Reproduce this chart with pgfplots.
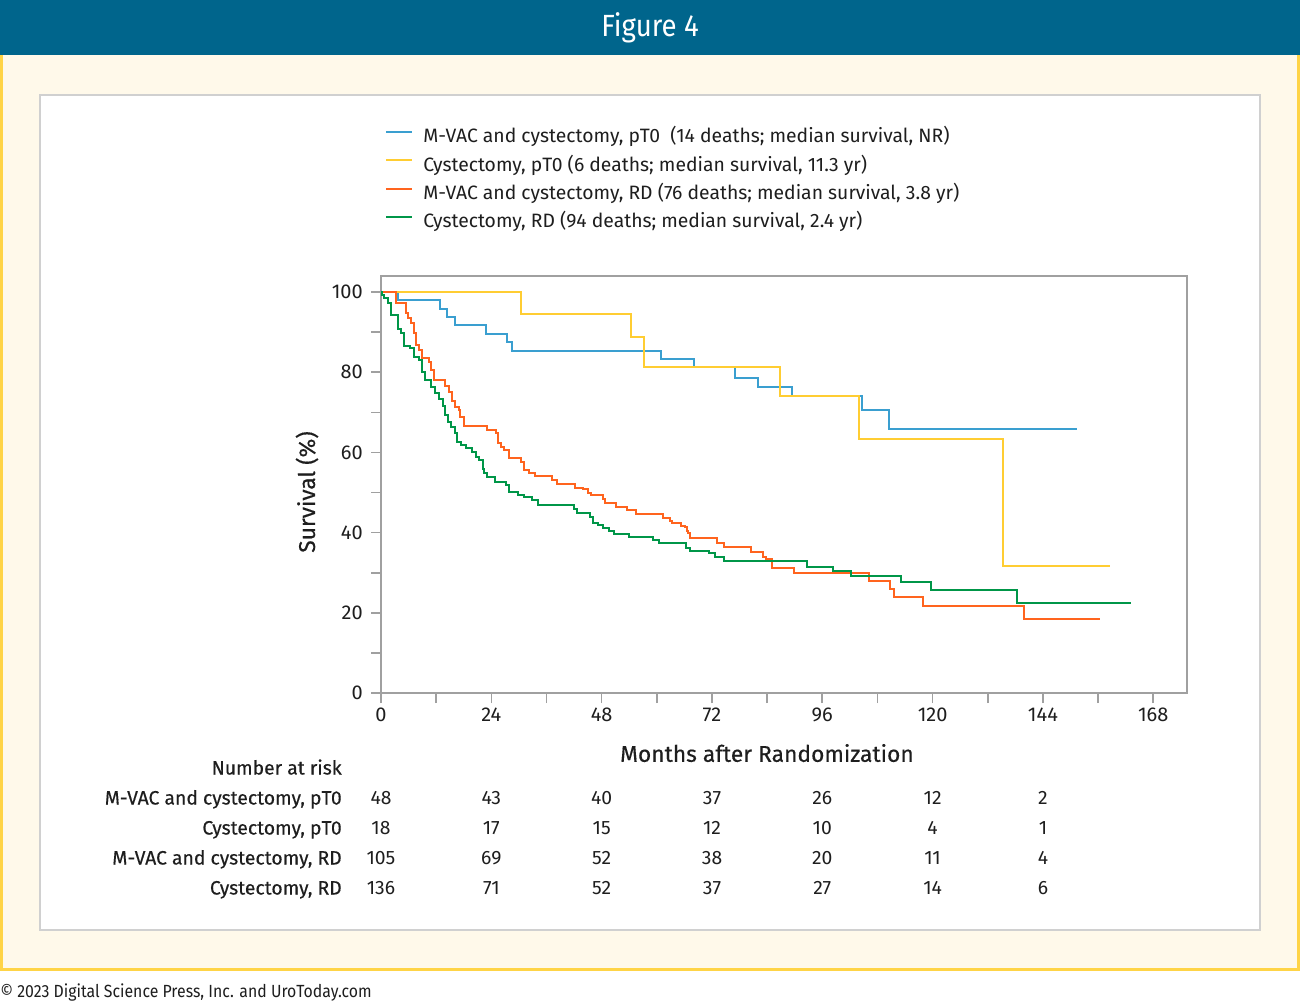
\documentclass[border=0pt]{standalone}
\usepackage{fontspec}
\usepackage{pgfplots}
\pgfplotsset{compat=1.18}
\setmainfont{Fira Sans}
\newfontfamily\medfont[FakeBold=0.35]{Fira Sans}
\newfontfamily\condfont[FakeStretch=0.9]{Fira Sans}
\definecolor{hdrblue}{RGB}{0,101,140}
\definecolor{cream}{RGB}{255,249,234}
\definecolor{ylwborder}{RGB}{255,212,70}
\definecolor{panelgray}{RGB}{208,208,208}
\definecolor{axisgray}{RGB}{160,160,160}
\definecolor{textdark}{RGB}{30,30,30}
\definecolor{cblue}{RGB}{58,159,208}
\definecolor{cyellow}{RGB}{255,205,50}
\definecolor{corange}{RGB}{255,100,30}
\definecolor{cgreen}{RGB}{0,150,72}
\newcommand{\tfs}{\fontsize{15}{17}\selectfont}
\newcommand{\lfs}{\fontsize{14.5}{17}\selectfont}
\newcommand{\afs}{\medfont\fontsize{17.1}{19}\selectfont}
\begin{document}
\begin{tikzpicture}[x=0.75pt,y=0.75pt]
\useasboundingbox (0,0) rectangle (1300,1004);
\fill[white] (0,0) rectangle (1300,1004);
\fill[cream] (0,33) rectangle (1300,949);
\draw[ylwborder, line width=2.25pt] (1.5,949) -- (1.5,34.5) -- (1298.5,34.5) -- (1298.5,949);
\fill[hdrblue] (0,949) rectangle (1300,1004);
\node[text=white, font=\condfont\fontsize{23}{26}\selectfont] at (650,976.5) {Figure 4};
\filldraw[fill=white, draw=panelgray, line width=1.5pt] (40,74) rectangle (1260,909);
\node[anchor=west, inner sep=0pt, text=textdark, font=\condfont\fontsize{13.2}{15}\selectfont] at (0,11) {© 2023 Digital Science Press, Inc. and UroToday.com};

\begin{axis}[
  at={(285.75pt,233.25pt)}, anchor=south west,
  scale only axis, width=604.7pt, height=312.75pt,
  xmin=0, xmax=175.4, ymin=0, ymax=104,
  axis line style={draw=axisgray, line width=1.2pt},
  tick style={draw=axisgray, line width=1.2pt},
  tick align=outside,
  major tick length=7.5pt, minor tick length=7.5pt,
  xtick pos=bottom, ytick pos=left,
  xtick={0,24,...,168}, minor xtick={12,36,...,156},
  ytick={0,20,...,100}, minor ytick={10,30,...,90},
  /pgf/number format/assume math mode=true,
  ticklabel style={font=\tfs, text=textdark},
  xticklabel style={inner sep=0pt, anchor=north, yshift=-3.75pt},
  yticklabel style={inner sep=0pt, anchor=east, xshift=-6pt},
  xlabel={Months after Randomization},
  ylabel={Survival (\%)},
  xlabel style={at={(axis description cs:0.4787,-0.144)}, anchor=center, font=\afs, text=textdark},
  ylabel style={at={(axis description cs:-0.0918,0.482)}, anchor=center, font=\afs, text=textdark},
  legend cell align=left,
  legend style={at={(0.005,1.355)}, anchor=north west, draw=none, fill=none, inner sep=0pt,
    font=\lfs, text=textdark, row sep=7.2pt,
    nodes={inner xsep=0pt, inner ysep=0pt, text height=11pt, text depth=3pt},
    /tikz/every odd column/.append style={column sep=7.5pt}},
  legend image code/.code={\draw[#1, line width=1.5pt] (0pt,4pt) -- (19.5pt,4pt);},
  clip=false,
]
\addplot[const plot, color=cblue, line width=1.5pt] coordinates {
(0,100)(3.8,97.9)(12.9,95.8)(14.3,93.75)(16.2,91.7)(22.9,89.6)(27.4,87.5)(28.4,85.4)
(61.0,83.2)(68.1,81.3)(77.0,78.5)(82.1,76.4)(89.5,74.0)(104.6,70.5)(110.6,65.9)(151.4,65.9)};
\addlegendentry{M-VAC and cystectomy, pT0\ \ (14 deaths; median survival, NR)}
\addplot[const plot, color=cyellow, line width=1.5pt] coordinates {
(0,100)(30.5,94.4)(54.3,88.9)(57.2,81.4)(86.9,74.0)(104.0,63.4)(135.3,31.7)(158.6,31.7)};
\addlegendentry{Cystectomy, pT0 (6 deaths; median survival, 11.3 yr)}
\addplot[const plot, color=corange, line width=1.5pt] coordinates {
(0,100)(3.3,97.2)(5.4,94.7)(5.9,93.4)(6.6,92.2)(7.2,89.7)(7.6,86.8)(8.3,85.5)(9.0,83.5)
(10.5,82.6)(10.8,80.5)(11.6,78.1)(14.0,76.6)(14.8,75.1)(15.4,72.7)(16.1,71.4)(16.9,70.6)
(17.2,68.9)(18.0,66.6)(23.0,65.7)(25.0,64.8)(25.4,62.3)(26.1,61.4)(26.8,60.6)(27.9,58.7)
(30.5,57.7)(31.2,55.6)(32.1,54.9)(33.4,54.1)(37.2,53.1)(38.3,52.1)(42.1,51.2)(43.9,50.8)
(45.0,50.0)(45.6,49.4)(48.3,48.4)(48.7,47.5)(51.1,46.5)(53.5,45.6)(55.4,44.6)(61.4,43.6)
(62.8,43.0)(63.2,42.5)(65.2,41.6)(66.1,41.3)(66.5,40.5)(66.8,39.8)(67.2,38.6)(73.0,37.3)
(74.6,36.3)(80.4,35.2)(83.0,34.0)(83.7,33.3)(85.0,31.1)(89.8,29.9)(106.1,28.0)(110.8,26.0)
(111.6,24.0)(118.0,21.8)(139.9,18.4)(156.4,18.4)};
\addlegendentry{M-VAC and cystectomy, RD (76 deaths; median survival, 3.8 yr)}
\addplot[const plot, color=cgreen, line width=1.5pt] coordinates {
(0,100)(0.3,99.3)(0.65,98.4)(1.5,97.3)(2.1,94.3)(3.8,90.7)(4.3,89.7)(5.0,86.5)(6.3,86.0)
(7.1,83.9)(8.3,83.0)(8.9,80.1)(9.5,78.1)(10.8,76.2)(11.8,74.7)(12.7,73.2)(13.4,71.6)
(14.0,69.3)(14.5,67.7)(15.2,66.4)(16.1,64.8)(16.6,62.7)(17.4,61.8)(18.5,61.0)(19.8,60.2)
(20.7,58.9)(21.4,58.1)(22.1,55.8)(22.5,54.8)(23.0,53.8)(24.9,52.7)(27.2,51.9)(27.9,50.2)
(29.7,49.4)(31.0,49.0)(32.9,48.1)(34.1,46.9)(41.9,45.8)(42.6,44.8)(45.4,43.8)(46.1,42.5)
(47.2,41.9)(48.3,41.1)(49.6,40.5)(50.7,39.7)(54.0,39.0)(59.2,38.2)(60.5,37.3)(66.3,36.1)
(67.2,35.5)(71.4,34.8)(72.7,33.8)(74.6,32.8)(92.7,31.5)(98.3,30.4)(102.3,29.3)(113.2,27.6)
(119.6,25.6)(138.3,22.4)(163.2,22.4)};
\addlegendentry{Cystectomy, RD (94 deaths; median survival, 2.4 yr)}
\end{axis}

% Number at risk table
\begin{scope}[every node/.style={inner sep=0pt, text=textdark}]
\node[anchor=mid east, font=\medfont\lfs] at (342,233) {Number at risk};
\node[anchor=mid east, font=\medfont\lfs] at (342,203) {M-VAC and cystectomy, pT0};
\node[anchor=mid east, font=\medfont\lfs] at (342,173) {Cystectomy, pT0};
\node[anchor=mid east, font=\medfont\lfs] at (342,143) {M-VAC and cystectomy, RD};
\node[anchor=mid east, font=\medfont\lfs] at (342,113) {Cystectomy, RD};
\foreach \x/\a/\b/\c/\d in {381/48/18/105/136, 491.3/43/17/69/71, 601.7/40/15/52/52, 712/37/12/38/37, 822.3/26/10/20/27, 932.6/12/4/11/14, 1043/2/1/4/6}{
  \node[anchor=mid, font=\lfs] at (\x,203) {\a};
  \node[anchor=mid, font=\lfs] at (\x,173) {\b};
  \node[anchor=mid, font=\lfs] at (\x,143) {\c};
  \node[anchor=mid, font=\lfs] at (\x,113) {\d};
}
\end{scope}
\end{tikzpicture}
\end{document}
